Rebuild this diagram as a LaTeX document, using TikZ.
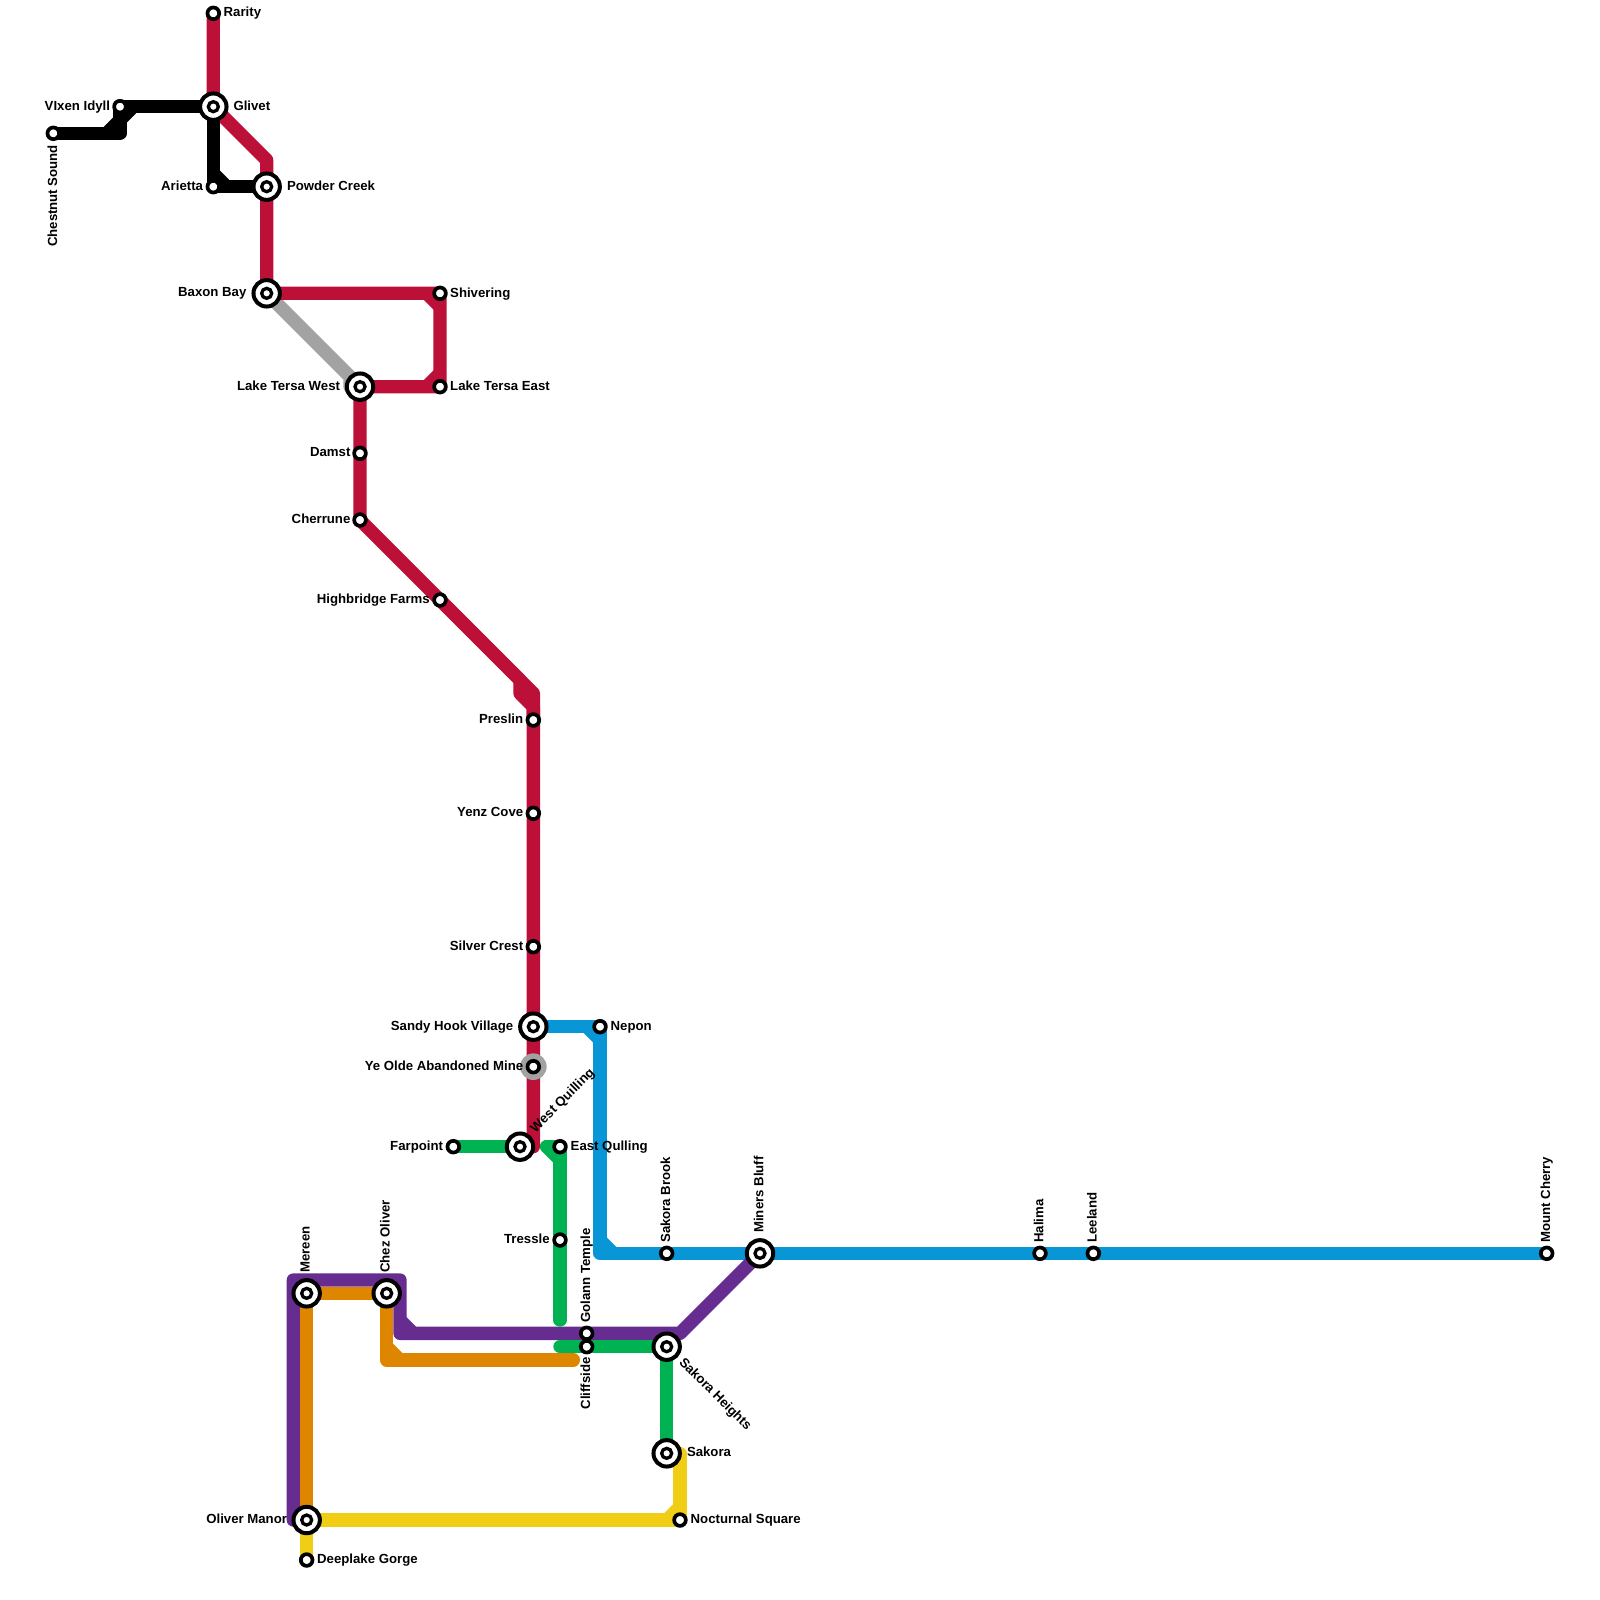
\documentclass[tikz,border=0pt]{standalone}
\usepackage{fontspec}
\setmainfont{Liberation Sans}
\usetikzlibrary{backgrounds}
\definecolor{cred}{HTML}{BD1038}
\definecolor{cgray}{HTML}{A2A2A2}
\definecolor{cblue}{HTML}{0896D7}
\definecolor{cgreen}{HTML}{00B251}
\definecolor{corange}{HTML}{DF8600}
\definecolor{cpurple}{HTML}{662C90}
\definecolor{cyellow}{HTML}{F0CE15}
\tikzset{
  stsmall/.style={circle,draw=black,fill=white,line width=3.7pt,inner sep=0pt,minimum size=11.7pt},
  stbig/.style={circle,draw=black,fill=white,line width=4pt,inner sep=0pt,minimum size=26.4pt},
  stcore/.style={circle,draw=black,fill=white,line width=3.3pt,inner sep=0pt,minimum size=10pt},
  stghost/.style={circle,fill=cgray,inner sep=0pt,minimum size=26.6pt},
  lbl/.style={inner sep=0pt,outer sep=0pt,text=black,font=\fontsize{13.2}{15}\selectfont\bfseries},
  metro/.style={line width=13.33pt,line join=round,line cap=round},
}
\newcommand{\stn}[3]{\node[stsmall] (#1) at (#2,#3) {};}
\newcommand{\bstn}[3]{\node[stbig] (#1) at (#2,#3) {};\node[stcore] (#1c) at (#1) {};}
\begin{document}
\begin{tikzpicture}[x=1pt,y=-1pt]
\useasboundingbox (0,0) rectangle (1600,1600);
% stations
\stn{rarity}{213.33}{13.33}
\stn{vixen}{120}{106.67}
\stn{chestnut}{53.33}{133.33}
\bstn{glivet}{213.33}{106.67}
\stn{arietta}{213.33}{186.67}
\bstn{powder}{266.67}{186.67}
\bstn{baxon}{266.67}{293.33}
\stn{shivering}{440}{293.33}
\stn{ltereast}{440}{386.67}
\bstn{ltwest}{360}{386.67}
\stn{damst}{360}{453.33}
\stn{cherrune}{360}{520}
\stn{highbridge}{440}{600}
\stn{preslin}{533.33}{720}
\stn{yenz}{533.33}{813.33}
\stn{silver}{533.33}{946.67}
\bstn{sandy}{533.33}{1026.67}
\node[stghost] (oldeghost) at (533.33,1066.67) {};
\stn{olde}{533.33}{1066.67}
\bstn{westq}{520}{1146.67}
\stn{farpoint}{453.33}{1146.67}
\stn{eastq}{560}{1146.67}
\stn{nepon}{600}{1026.67}
\stn{tressle}{560}{1240}
\bstn{mereen}{306.67}{1293.33}
\bstn{chez}{386.67}{1293.33}
\stn{golann}{586.67}{1333.33}
\stn{cliffside}{586.67}{1346.67}
\bstn{heights}{666.67}{1346.67}
\bstn{miners}{760}{1253.33}
\stn{brook}{666.67}{1253.33}
\bstn{sakora}{666.67}{1453.33}
\stn{nocturnal}{680}{1520}
\bstn{oliver}{306.67}{1520}
\stn{deeplake}{306.67}{1560}
\stn{halima}{1040}{1253.33}
\stn{leeland}{1093.33}{1253.33}
\stn{cherry}{1546.67}{1253.33}
% free points
\coordinate (bk1) at (120,133.33);
\coordinate (bk2) at (106.67,133.33);
\coordinate (bk3) at (120,120);
\coordinate (bk4) at (133.33,106.67);
\coordinate (bk5) at (213.33,173.33);
\coordinate (bk6) at (226.67,186.67);
\coordinate (rd1) at (266.67,160);
\coordinate (rd2) at (426.67,293.33);
\coordinate (rd3) at (440,306.67);
\coordinate (rd4) at (426.67,386.67);
\coordinate (rd5) at (440,373.33);
\coordinate (rd6) at (520,680);
\coordinate (rd7) at (520,693.33);
\coordinate (rd8) at (533.33,706.67);
\coordinate (rd9) at (533.33,693.33);
\coordinate (rd10) at (533.33,1146.67);
\coordinate (gy1) at (350,376.67);
\coordinate (gy2) at (350,386.67);
\coordinate (bl1) at (586.67,1026.67);
\coordinate (bl2) at (600,1040);
\coordinate (bl3) at (600,1240);
\coordinate (bl4) at (613.33,1253.33);
\coordinate (bl5) at (600,1253.33);
\coordinate (gr1) at (546.67,1146.67);
\coordinate (gr2) at (560,1160);
\coordinate (gr3) at (560,1320);
\coordinate (gr4) at (560,1346.67);
\coordinate (pu1) at (680,1333.33);
\coordinate (pu2) at (400,1333.33);
\coordinate (pu3) at (400,1280);
\coordinate (pu4) at (293.33,1280);
\coordinate (pu5) at (293.33,1520);
\coordinate (pu6) at (400,1320);
\coordinate (pu7) at (413.33,1333.33);
\coordinate (or1) at (386.67,1360);
\coordinate (or2) at (573.33,1360);
\coordinate (or3) at (386.67,1346.67);
\coordinate (or4) at (400,1360);
\coordinate (ye1) at (680,1453.33);
\coordinate (ye2) at (666.67,1520);
\coordinate (ye3) at (680,1506.67);
% lines
\begin{pgfonlayer}{background}
\draw[metro,cgray] (baxon.center) -- (gy1) -- (gy2) -- (ltwest.center);
\draw[metro,cred] (rarity.center) -- (glivet.center) -- (rd1) -- (powder.center) -- (baxon.center) -- (shivering.center) -- (ltereast.center) -- (ltwest.center) -- (damst.center) -- (cherrune.center) -- (highbridge.center) -- (rd6) -- (rd7) -- (rd8) -- (preslin.center) -- (yenz.center) -- (silver.center) -- (sandy.center) -- (olde.center) -- (rd10) -- (westq.center);
\draw[metro,cred] (highbridge.center) -- (rd9) -- (preslin.center);
\draw[metro,cred,line cap=butt] (rd2) -- (rd3);
\draw[metro,cred,line cap=butt] (rd4) -- (rd5);
\fill[cred] (rd6) -- (rd9) -- (rd8) -- (rd7) -- cycle;
\draw[metro,black] (chestnut.center) -- (bk1) -- (vixen.center) -- (glivet.center) -- (arietta.center) -- (powder.center);
\draw[metro,black,line cap=butt] (bk2) -- (bk3);
\draw[metro,black,line cap=butt] (bk3) -- (bk4);
\draw[metro,black,line cap=butt] (bk5) -- (bk6);
\draw[metro,cblue] (sandy.center) -- (nepon.center) -- (bl5) -- (cherry.center);
\draw[metro,cblue,line cap=butt] (bl1) -- (bl2);
\draw[metro,cblue,line cap=butt] (bl3) -- (bl4);
\draw[metro,cpurple] (miners.center) -- (pu1) -- (pu2) -- (pu3) -- (pu4) -- (pu5) -- (oliver.center);
\draw[metro,cpurple,line cap=butt] (pu6) -- (pu7);
\draw[metro,corange] (oliver.center) -- (mereen.center) -- (chez.center) -- (or1) -- (or2);
\draw[metro,corange,line cap=butt] (or3) -- (or4);
\draw[metro,cyellow] (deeplake.center) -- (oliver.center) -- (nocturnal.center) -- (ye1) -- (sakora.center);
\draw[metro,cyellow,line cap=butt] (ye2) -- (ye3);
\draw[metro,cgreen] (farpoint.center) -- (westq.center);
\draw[metro,cgreen] (gr1) -- (eastq.center) -- (tressle.center) -- (gr3);
\draw[metro,cgreen] (gr1) -- (gr2);
\draw[metro,cgreen] (gr4) -- (cliffside.center) -- (heights.center) -- (sakora.center);
\end{pgfonlayer}
% labels
\node[lbl,anchor=base west] (l1) at (223.7,16.8) {Rarity};
\node[lbl,anchor=base east] (l2) at (110,110.4) {VIxen Idyll};
\node[lbl,anchor=base east,rotate=90] (l3) at (57,145) {Chestnut Sound};
\node[lbl,anchor=base west] (l4) at (233.5,110.4) {Glivet};
\node[lbl,anchor=base east] (l5) at (203,190.2) {Arietta};
\node[lbl,anchor=base west] (l6) at (287,190.2) {Powder Creek};
\node[lbl,anchor=base east] (l7) at (246.4,296.8) {Baxon Bay};
\node[lbl,anchor=base west] (l8) at (450.2,297) {Shivering};
\node[lbl,anchor=base west] (l9) at (450.2,390.2) {Lake Tersa East};
\node[lbl,anchor=base east] (l10) at (340,390.2) {Lake Tersa West};
\node[lbl,anchor=base east] (l11) at (350.4,456.8) {Damst};
\node[lbl,anchor=base east] (l12) at (350.4,523.5) {Cherrune};
\node[lbl,anchor=base east] (l13) at (429.8,603.5) {Highbridge Farms};
\node[lbl,anchor=base east] (l14) at (523.2,723.5) {Preslin};
\node[lbl,anchor=base east] (l15) at (523.2,816.8) {Yenz Cove};
\node[lbl,anchor=base east] (l16) at (523.2,950) {Silver Crest};
\node[lbl,anchor=base east] (l17) at (513.2,1030) {Sandy Hook Village};
\node[lbl,anchor=base east] (l18) at (523.2,1070) {Ye Olde Abandoned Mine};
\node[lbl,anchor=base west,rotate=45] (l19) at (535.5,1133) {West Quilling};
\node[lbl,anchor=base east] (l20) at (443,1150) {Farpoint};
\node[lbl,anchor=base west] (l21) at (570.7,1150) {East Qulling};
\node[lbl,anchor=base west] (l22) at (610.7,1030) {Nepon};
\node[lbl,anchor=base east] (l23) at (549.6,1243.3) {Tressle};
\node[lbl,anchor=base west,rotate=90] (l24) at (309.6,1272.6) {Mereen};
\node[lbl,anchor=base west,rotate=90] (l25) at (389.6,1272.6) {Chez Oliver};
\node[lbl,anchor=base west,rotate=90] (l26) at (590,1322.6) {Golann Temple};
\node[lbl,anchor=base east,rotate=90] (l27) at (590,1357.4) {Cliffside};
\node[lbl,anchor=base west,rotate=-45] (l28) at (678.5,1363) {Sakora Heights};
\node[lbl,anchor=base west,rotate=90] (l29) at (670,1242.7) {Sakora Brook};
\node[lbl,anchor=base west,rotate=90] (l30) at (763.3,1232.7) {Miners Bluff};
\node[lbl,anchor=base west] (l31) at (687,1456.8) {Sakora};
\node[lbl,anchor=base west] (l32) at (690.7,1523.4) {Nocturnal Square};
\node[lbl,anchor=base east] (l33) at (287,1523.4) {Oliver Manor};
\node[lbl,anchor=base west] (l34) at (317.2,1563.4) {Deeplake Gorge};
\node[lbl,anchor=base west,rotate=90] (l35) at (1043.3,1242.7) {Halima};
\node[lbl,anchor=base west,rotate=90] (l36) at (1096.6,1242.7) {Leeland};
\node[lbl,anchor=base west,rotate=90] (l37) at (1550,1242.7) {Mount Cherry};
\end{tikzpicture}
\end{document}
